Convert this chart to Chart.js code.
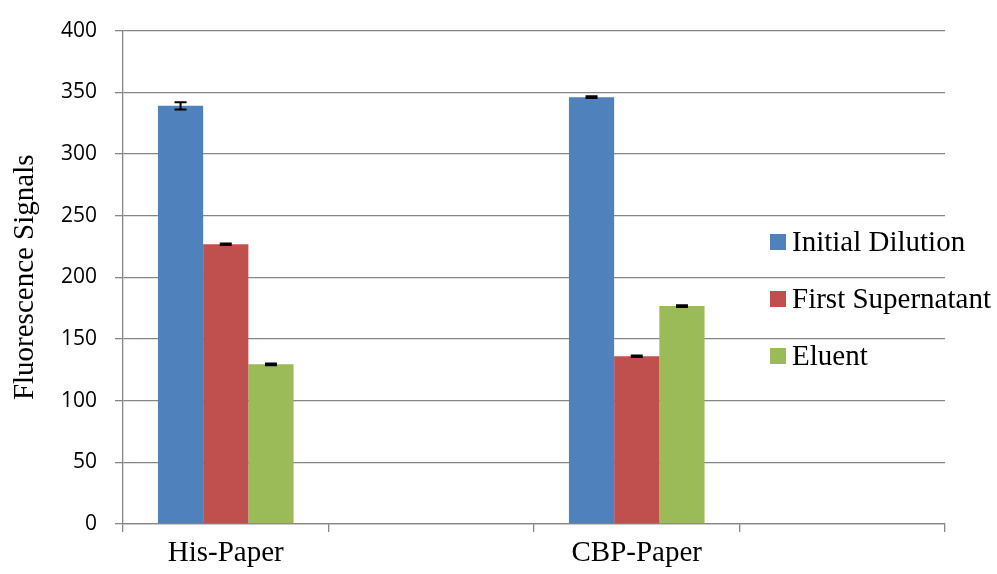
<!DOCTYPE html>
<html>
<head>
<meta charset="utf-8">
<script src="https://cdn.jsdelivr.net/npm/chart.js@4/dist/chart.umd.min.js"></script>
<style>
  html, body { margin: 0; padding: 0; background: #fff; }
  #wrap { width: 997px; height: 574px; }
</style>
</head>
<body>
<div id="wrap"><canvas id="chart"></canvas></div>
<script>
// categories (slots 2 and 4 are empty, as in the original sheet)
const categories = ["His-Paper", "", "CBP-Paper", ""];

const initialDilution = [339, null, 346, null];
const firstSupernatant = [226.8, null, 136, null];
const eluent = [129.5, null, 176.7, null];

// error bar half-lengths
const initialErr = [3, 0, 0.7, 0];
const supernatantErr = [0.7, 0, 0.7, 0];
const eluentErr = [0.7, 0, 0.7, 0];

const yTicks = [0, 50, 100, 150, 200, 250, 300, 350, 400];

const serif = "'Liberation Serif', 'Times New Roman', serif";

// draws the little black error bars on top of each bar
const errorBars = {
    id: "errorBars",
    afterDatasetsDraw(chart) {
        const ctx = chart.ctx;
        const y = chart.scales.y;
        chart.data.datasets.forEach((ds, i) => {
            let meta = chart.getDatasetMeta(i);
            meta.data.forEach((bar, j) => {
                let v = ds.data[j];
                let e = ds.errors[j];
                if (v == null || !e) return;
                let top = y.getPixelForValue(v + e);
                let bot = y.getPixelForValue(v - e);
                ctx.save();
                ctx.strokeStyle = "#000";
                ctx.lineWidth = 2;
                ctx.beginPath();
                ctx.moveTo(bar.x, top);
                ctx.lineTo(bar.x, bot);
                ctx.moveTo(bar.x - 6, top);
                ctx.lineTo(bar.x + 6, top);
                ctx.moveTo(bar.x - 6, bot);
                ctx.lineTo(bar.x + 6, bot);
                ctx.stroke();
                ctx.restore();
            });
        });
    }
};

// legend sits on the right, over the plot area
const sideLegend = {
    id: "sideLegend",
    afterDraw(chart) {
        const ctx = chart.ctx;
        let cy = 242;
        ctx.save();
        ctx.font = "29px " + serif;
        ctx.textBaseline = "middle";
        ctx.textAlign = "left";
        chart.data.datasets.forEach((ds) => {
            ctx.fillStyle = ds.backgroundColor;
            ctx.fillRect(770, cy - 8, 16, 16);
            ctx.fillStyle = "#000";
            ctx.fillText(ds.label, 792, cy + 1);
            cy += 57;
        });
        ctx.restore();
    }
};

new Chart(document.getElementById("chart"), {
    type: "bar",
    data: {
        labels: categories,
        datasets: [
            { label: "Initial Dilution", data: initialDilution, errors: initialErr, backgroundColor: "#4F81BD" },
            { label: "First Supernatant", data: firstSupernatant, errors: supernatantErr, backgroundColor: "#C0504D" },
            { label: "Eluent", data: eluent, errors: eluentErr, backgroundColor: "#9BBB59" }
        ]
    },
    options: {
        responsive: true,
        maintainAspectRatio: false,
        animation: false,
        skipNull: false,
        categoryPercentage: 0.66,
        barPercentage: 1,
        layout: { padding: { left: 0, right: 52, top: 27, bottom: 0 } },
        plugins: {
            legend: { display: false },
            tooltip: { enabled: false }
        },
        scales: {
            x: {
                grid: {
                    offset: true,
                    drawOnChartArea: false,
                    drawTicks: true,
                    tickLength: 8,
                    color: "#868686",
                    lineWidth: 1.3
                },
                border: { color: "#868686", width: 1.3 },
                ticks: {
                    color: "#000",
                    font: { family: serif, size: 29 },
                    padding: 4,
                    maxRotation: 0,
                    autoSkip: false
                },
                afterFit(s) { s.height = 50; }
            },
            y: {
                min: 0,
                max: 400,
                afterBuildTicks(s) { s.ticks = yTicks.map(v => ({ value: v })); },
                grid: {
                    color: "#868686",
                    lineWidth: 1.3,
                    drawTicks: true,
                    tickLength: 8
                },
                border: { color: "#868686", width: 1.3 },
                ticks: {
                    color: "#000",
                    font: { family: "'Open Sans', 'Liberation Sans', sans-serif", size: 21 },
                    padding: 18
                },
                title: {
                    display: true,
                    text: "Fluorescence Signals",
                    color: "#000",
                    font: { family: serif, size: 29 },
                    padding: { top: 8, bottom: 0 }
                },
                afterFit(s) { s.width = 123; }
            }
        }
    },
    plugins: [errorBars, sideLegend]
});
</script>
</body>
</html>
